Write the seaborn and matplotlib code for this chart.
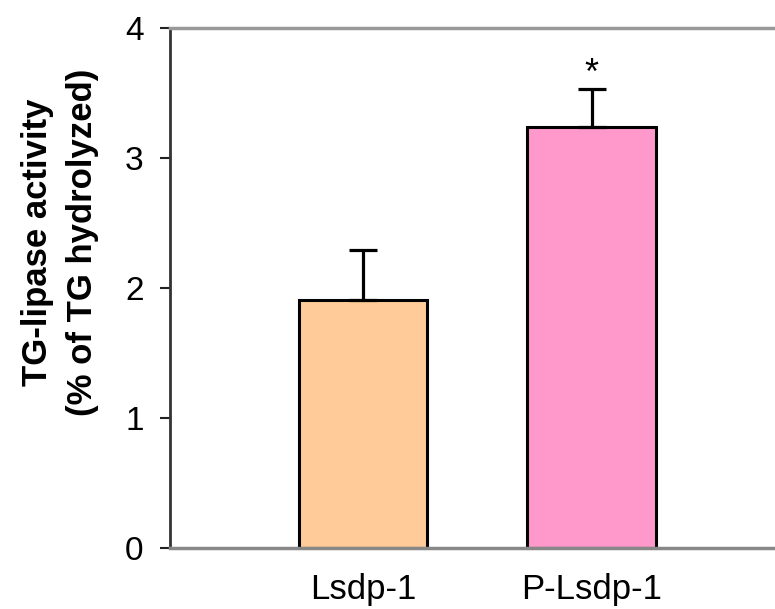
import pandas as pd
import matplotlib
matplotlib.use('Agg')
import matplotlib.pyplot as plt
import seaborn as sns

# values
groups = ['Lsdp-1', 'P-Lsdp-1']
activity = [1.91, 3.24]
sem = [0.38, 0.29]
bar_colors = ['#FFCC99', '#FF99CC']
y_ticks = [0, 1, 2, 3, 4]

data = pd.DataFrame({'Group': groups, 'Activity': activity})

sns.set_theme(style='ticks')
plt.rcParams['font.family'] = ['Liberation Sans', 'DejaVu Sans']
plt.rcParams['text.color'] = 'black'
plt.rcParams['axes.labelcolor'] = 'black'
plt.rcParams['xtick.color'] = 'black'
plt.rcParams['ytick.color'] = 'black'

fig = plt.figure(figsize=(7.75, 6.09), dpi=100)
ax = fig.add_axes([0.2194, 0.1002, 0.7806, 0.8538])

sns.barplot(data=data, x='Group', y='Activity', hue='Group',
            palette=bar_colors, saturation=1, edgecolor='black',
            linewidth=2.2, width=0.563, errorbar=None, legend=False, ax=ax)

# upper error bars only
ax.errorbar(range(len(groups)), activity, yerr=[[0] * len(sem), sem],
            fmt='none', ecolor='black', elinewidth=2.3, capsize=10,
            capthick=2.3, zorder=1)

# significance mark
ax.annotate('*', xy=(1, activity[1] + sem[1]), xytext=(0, -2),
            textcoords='offset points', ha='center', va='bottom',
            fontsize=26)

ax.set_xlim(-0.843, 1.80)
ax.set_ylim(0, 4)
ax.set_yticks(y_ticks)
ax.set_xlabel('')
ax.set_ylabel('TG-lipase activity\n(% of TG hydrolyzed)', fontsize=25,
              fontweight='bold', linespacing=1.45)
ax.yaxis.set_label_coords(-0.118, 0.588)

ax.tick_params(axis='y', labelsize=24, length=7, width=1.5,
               color='#222222', pad=12)
ax.tick_params(axis='x', labelsize=25, length=0, pad=18)

ax.spines['left'].set_color('#333333')
ax.spines['left'].set_linewidth(2)
ax.spines['bottom'].set_color('#888888')
ax.spines['bottom'].set_linewidth(2.5)
ax.spines['top'].set_visible(True)
ax.spines['top'].set_color('#999999')
ax.spines['top'].set_linewidth(2.5)
ax.spines['right'].set_visible(False)

fig.savefig('out.png', dpi=100)
